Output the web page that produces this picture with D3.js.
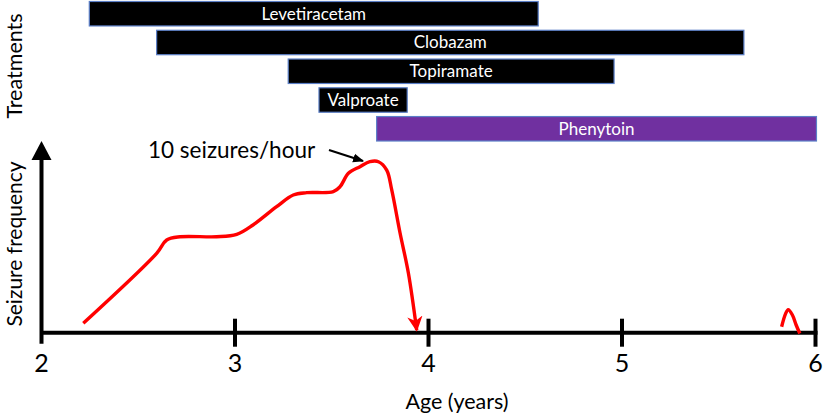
<!DOCTYPE html>
<html><head><meta charset="utf-8">
<script src="https://cdn.jsdelivr.net/npm/d3@7"></script>
<style>body{margin:0;background:#fff}svg{display:block}text{font-family:Lato,"Open Sans",sans-serif}</style>
</head><body><svg id="c" width="825" height="417"></svg>
<script>
// ---- data ----
const treatments = ["Levetiracetam","Clobazam","Topiramate","Valproate","Phenytoin"];
const treatStart = [2.247, 2.595, 3.275, 3.434, 3.732];
const treatEnd   = [4.567, 5.630, 4.959, 3.890, 6.005];
const treatColor = ["#000000","#000000","#000000","#000000","#7030a0"];
const curveAge   = [2.216,2.595,2.647,2.716,2.905,3.009,3.093,3.215,3.301,3.371,3.508,3.543,3.586,3.646,3.697,3.741,3.784,3.810,3.853,3.896,3.939];
const curveFreq  = [0.55,4.64,5.42,5.61,5.61,5.75,6.30,7.37,8.05,8.19,8.25,8.54,9.32,9.71,10.0,10.0,9.51,8.35,5.83,3.49,0.15];
const bumpAge    = [5.825,5.845,5.859,5.880,5.900,5.919];
const bumpFreq   = [0.35,1.10,1.35,1.05,0.45,-0.05];
const xTicks     = [2,3,4,5,6];

const svg = d3.select("#c");
const x = d3.scaleLinear().domain([2,6]).range([41.5,815.5]);
const y = d3.scaleLinear().domain([0,10]).range([332.7,161.7]);
const band = d3.scaleBand().domain(treatments).range([1.5,141]).paddingInner(0.15);

const defs = svg.append("defs");
defs.append("marker").attr("id","redhead").attr("viewBox","0 0 10 10").attr("refX",9).attr("refY",5)
  .attr("markerWidth",4.5).attr("markerHeight",4.5).attr("orient","auto").attr("markerUnits","strokeWidth")
  .append("path").attr("d","M0,0 L10,5 L0,10 L3,5 Z").attr("fill","#ff0000");
defs.append("marker").attr("id","blackhead").attr("viewBox","0 0 10 10").attr("refX",9).attr("refY",5)
  .attr("markerWidth",5).attr("markerHeight",5).attr("orient","auto").attr("markerUnits","strokeWidth")
  .append("path").attr("d","M0,1 L10,5 L0,9 Z").attr("fill","#000");

// treatment bars
const g = svg.append("g");
treatments.forEach((t,i)=>{
  g.append("rect").attr("x",x(treatStart[i])).attr("y",band(t))
    .attr("width",x(treatEnd[i])-x(treatStart[i])).attr("height",band.bandwidth())
    .attr("fill",treatColor[i]).attr("stroke","#5b7fc7").attr("stroke-width",1.2);
  g.append("text").attr("x",(x(treatStart[i])+x(treatEnd[i]))/2).attr("y",band(t)+band.bandwidth()/2+6)
    .attr("text-anchor","middle").attr("fill","#fff").attr("font-size",17).text(t);
});

// axes
const ax = svg.append("g").attr("stroke","#000").attr("stroke-width",4);
ax.append("line").attr("x1",x(2)).attr("x2",x(6)+2).attr("y1",y(0)).attr("y2",y(0));
ax.append("line").attr("x1",x(2)).attr("x2",x(2)).attr("y1",y(0)+11).attr("y2",158);
svg.append("path").attr("d",`M${x(2)},141 L${x(2)+10},160 L${x(2)-10},160 Z`).attr("fill","#000");
xTicks.slice(1).forEach(v=>{
  ax.append("line").attr("x1",x(v)).attr("x2",x(v)).attr("y1",y(0)-14).attr("y2",y(0)+14);
});
xTicks.forEach(v=>{
  svg.append("text").attr("x",x(v)).attr("y",372).attr("text-anchor","middle").attr("font-size",25).text(v);
});
svg.append("text").attr("x",457).attr("y",409).attr("text-anchor","middle").attr("font-size",21.5).text("Age (years)");
svg.append("text").attr("transform","translate(22,244) rotate(-90)").attr("text-anchor","middle").attr("font-size",21).text("Seizure frequency");
svg.append("text").attr("transform","translate(22,66) rotate(-90)").attr("text-anchor","middle").attr("font-size",21.5).text("Treatments");

// red curve
const line = d3.line().x(d=>x(d[0])).y(d=>y(d[1])).curve(d3.curveCatmullRom.alpha(0.5));
svg.append("path").datum(curveAge.map((a,i)=>[a,curveFreq[i]])).attr("d",line)
  .attr("fill","none").attr("stroke","#ff0000").attr("stroke-width",3.4).attr("marker-end","url(#redhead)");
svg.append("path").datum(bumpAge.map((a,i)=>[a,bumpFreq[i]])).attr("d",line)
  .attr("fill","none").attr("stroke","#ff0000").attr("stroke-width",3.4);

// annotation
svg.append("text").attr("x",148).attr("y",158).attr("font-size",22.5).text("10 seizures/hour");
svg.append("line").attr("x1",329).attr("y1",150).attr("x2",363).attr("y2",161)
  .attr("stroke","#000").attr("stroke-width",2.2).attr("marker-end","url(#blackhead)");
</script></body></html>
